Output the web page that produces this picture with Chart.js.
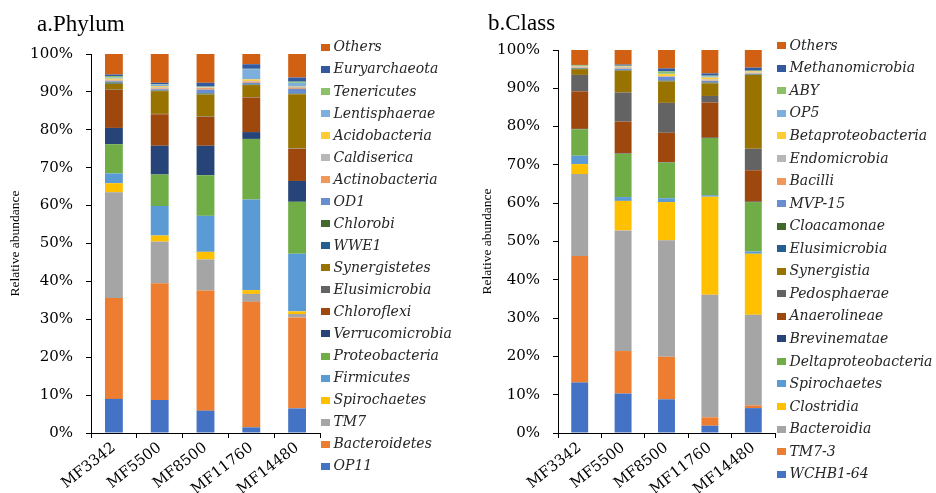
<!DOCTYPE html>
<html><head><meta charset="utf-8">
<script src="https://cdn.jsdelivr.net/npm/chart.js@4.4.1/dist/chart.umd.min.js"></script>
<style>
html,body{margin:0;padding:0;background:#fff;}
#wrap{position:relative;width:936px;height:493px;overflow:hidden;background:#fff;}
.box{position:absolute;top:0;width:468px;height:493px;}
</style></head><body>
<div id="wrap">
  <div class="box" style="left:0"><canvas id="c1"></canvas></div>
  <div class="box" style="left:468px"><canvas id="c2"></canvas></div>
</div>
<script>
// ---------- DATA ----------
const samples = ['MF3342', 'MF5500', 'MF8500', 'MF11760', 'MF14480'];
const yTickLabels = ['0%','10%','20%','30%','40%','50%','60%','70%','80%','90%','100%'];

// a. Phylum (bottom -> top)
const phylumNames = ['OP11','Bacteroidetes','TM7','Spirochaetes','Firmicutes','Proteobacteria',
  'Verrucomicrobia','Chloroflexi','Elusimicrobia','Synergistetes','WWE1','Chlorobi','OD1',
  'Actinobacteria','Caldiserica','Acidobacteria','Lentisphaerae','Tenericutes','Euryarchaeota','Others'];
const phOP11            = [9.0, 8.7, 5.9, 1.5, 6.5];
const phBacteroidetes   = [26.6, 30.8, 31.7, 33.1, 24.0];
const phTM7             = [27.9, 11.0, 8.2, 2.1, 0.9];
const phSpirochaetes    = [2.4, 1.6, 2.0, 1.0, 0.7];
const phFirmicutes      = [2.6, 7.8, 9.5, 23.9, 15.2];
const phProteobacteria  = [7.7, 8.3, 10.7, 16.0, 13.7];
const phVerrucomicrobia = [4.3, 7.6, 7.8, 1.8, 5.5];
const phChloroflexi     = [10.0, 8.3, 7.6, 9.1, 8.5];
const phElusimicrobia   = [0.1, 0.1, 0.1, 0.1, 0.1];
const phSynergistetes   = [1.5, 6.0, 5.8, 3.2, 14.3];
const phWWE1            = [0.1, 0.1, 0.1, 0.1, 0.1];
const phChlorobi        = [0.3, 0.1, 0.2, 0.1, 0.1];
const phOD1             = [0.3, 0.3, 1.0, 0.4, 1.2];
const phActinobacteria  = [0.2, 0.2, 0.4, 0.3, 0.3];
const phCaldiserica     = [0.2, 0.3, 0.1, 0.2, 0.2];
const phAcidobacteria   = [0.3, 0.3, 0.1, 0.4, 0.1];
const phLentisphaerae   = [0.3, 0.4, 0.1, 2.7, 1.0];
const phTenericutes     = [0.4, 0.1, 0.1, 0.1, 0.3];
const phEuryarchaeota   = [0.4, 0.4, 1.0, 1.2, 1.1];
const phOthers          = [5.4, 7.6, 7.6, 2.7, 6.2];
const phylumSeries = [phOP11, phBacteroidetes, phTM7, phSpirochaetes, phFirmicutes, phProteobacteria,
  phVerrucomicrobia, phChloroflexi, phElusimicrobia, phSynergistetes, phWWE1, phChlorobi, phOD1,
  phActinobacteria, phCaldiserica, phAcidobacteria, phLentisphaerae, phTenericutes, phEuryarchaeota, phOthers];

// b. Class (bottom -> top)
const classNames = ['WCHB1-64','TM7-3','Bacteroidia','Clostridia','Spirochaetes','Deltaproteobacteria',
  'Brevinematae','Anaerolineae','Pedosphaerae','Synergistia','Elusimicrobia','Cloacamonae','MVP-15',
  'Bacilli','Endomicrobia','Betaproteobacteria','OP5','ABY','Methanomicrobia','Others'];
const clWCHB164        = [13.2, 10.3, 8.8, 1.9, 6.5];
const clTM73           = [33.0, 11.1, 11.1, 2.2, 0.7];
const clBacteroidia    = [21.4, 31.5, 30.4, 32.0, 23.7];
const clClostridia     = [2.6, 7.7, 10.0, 25.6, 15.9];
const clSpirochaetes   = [2.2, 1.0, 1.0, 0.4, 0.6];
const clDeltaproteo    = [6.9, 11.3, 9.3, 14.9, 12.9];
const clBrevinematae   = [0.1, 0.1, 0.1, 0.1, 0.1];
const clAnaerolineae   = [9.8, 8.3, 7.7, 9.2, 8.2];
const clPedosphaerae   = [4.3, 7.6, 7.8, 1.7, 5.6];
const clSynergistia    = [1.5, 5.7, 5.6, 3.3, 19.3];
const clElusimicrobia  = [0.1, 0.1, 0.1, 0.1, 0.1];
const clCloacamonae    = [0.1, 0.1, 0.1, 0.1, 0.1];
const clMVP15          = [0.1, 0.3, 1.0, 0.4, 0.1];
const clBacilli        = [0.1, 0.1, 0.1, 0.1, 0.1];
const clEndomicrobia   = [0.2, 0.3, 0.1, 0.3, 0.2];
const clBetaproteo     = [0.1, 0.2, 0.5, 0.5, 0.3];
const clOP5            = [0.1, 0.1, 0.1, 0.3, 0.1];
const clABY            = [0.2, 0.1, 0.6, 0.2, 0.1];
const clMethanomicro   = [0.1, 0.3, 0.8, 0.6, 0.8];
const clOthers         = [3.9, 3.8, 4.8, 6.1, 4.6];
const classSeries = [clWCHB164, clTM73, clBacteroidia, clClostridia, clSpirochaetes, clDeltaproteo,
  clBrevinematae, clAnaerolineae, clPedosphaerae, clSynergistia, clElusimicrobia, clCloacamonae, clMVP15,
  clBacilli, clEndomicrobia, clBetaproteo, clOP5, clABY, clMethanomicro, clOthers];

// ---------- STYLE ----------
const palette = ['#4472C4','#ED7D31','#A5A5A5','#FFC000','#5B9BD5','#70AD47',
  '#264478','#9E480E','#636363','#997300','#255E91','#43682B','#698ED0',
  '#F1975A','#B7B7B7','#FFCD33','#7CAFDD','#8CC168','#335AA1','#D26012'];

const overlay = {
  id: 'overlay',
  afterDraw(chart, args, o) {
    const ctx = chart.ctx;
    ctx.save();
    ctx.fillStyle = '#000';
    ctx.font = o.titleFont;
    ctx.textAlign = 'left';
    ctx.textBaseline = 'alphabetic';
    ctx.fillText(o.title, o.titleX, o.titleY);
    const ds = chart.data.datasets;
    ctx.font = o.legendFont;
    ctx.textBaseline = 'middle';
    for (let k = 0; k < ds.length; k++) {
      const d = ds[ds.length - 1 - k];
      const y = o.legendY + k * o.legendStep;
      ctx.fillStyle = d.backgroundColor;
      ctx.fillRect(o.legendX, Math.round(y - 3.5), 9, 7);
      ctx.fillStyle = '#262626';
      ctx.fillText(d.label, o.legendX + 12.5, y + 0.5);
    }
    ctx.restore();
  }
};

function makeChart(id, names, series, g) {
  const datasets = names.map((n, i) => ({
    label: n,
    data: series[i],
    backgroundColor: palette[i],
    borderWidth: 0,
    barPercentage: 0.39,
    categoryPercentage: 1.0
  }));
  return new Chart(document.getElementById(id), {
    type: 'bar',
    data: { labels: samples, datasets },
    plugins: [overlay],
    options: {
      responsive: true,
      maintainAspectRatio: false,
      devicePixelRatio: 1,
      animation: false,
      layout: { padding: { top: g.top, right: g.right, left: 0, bottom: 0 } },
      plugins: {
        legend: { display: false },
        tooltip: { enabled: false },
        overlay: g.overlay
      },
      scales: {
        x: {
          stacked: true,
          grid: { display: true, drawOnChartArea: false, drawTicks: true, tickLength: 5, color: '#000', offset: true },
          border: { display: true, color: '#000', width: 1 },
          ticks: { color: '#000', font: { family: 'DejaVu Serif', size: 15 }, minRotation: 38, maxRotation: 38, padding: 1, autoSkip: false },
          afterFit(s) { s.height = 60; }
        },
        y: {
          stacked: true,
          min: 0, max: 100,
          grid: { drawOnChartArea: false, drawTicks: true, tickLength: 5, color: '#000' },
          border: { display: true, color: '#000', width: 1 },
          ticks: { stepSize: 10, color: '#000', font: { family: 'DejaVu Serif', size: 15 }, padding: 13,
                   callback: (v, i) => yTickLabels[i] },
          title: { display: true, text: 'Relative abundance', color: '#000',
                   font: { family: 'Liberation Serif', size: 13.5, lineHeight: 1.2 }, padding: { top: g.ytPad, bottom: 0 } },
          afterFit(s) { s.width = g.yWidth; }
        }
      }
    }
  });
}

makeChart('c1', phylumNames, phylumSeries, {
  top: 54, right: 148, yWidth: 91, ytPad: 7,
  overlay: { title: 'a.Phylum', titleX: 37, titleY: 30.5, titleFont: '23px "Liberation Serif"',
             legendX: 321, legendY: 47.3, legendStep: 22.05, legendFont: 'italic 14px "DejaVu Serif"' }
});
makeChart('c2', classNames, classSeries, {
  top: 50, right: 161, yWidth: 90, ytPad: 11,
  overlay: { title: 'b.Class', titleX: 20, titleY: 30, titleFont: '23px "Liberation Serif"',
             legendX: 309, legendY: 45.7, legendStep: 22.55, legendFont: 'italic 14px "DejaVu Serif"' }
});
</script>
</body></html>
